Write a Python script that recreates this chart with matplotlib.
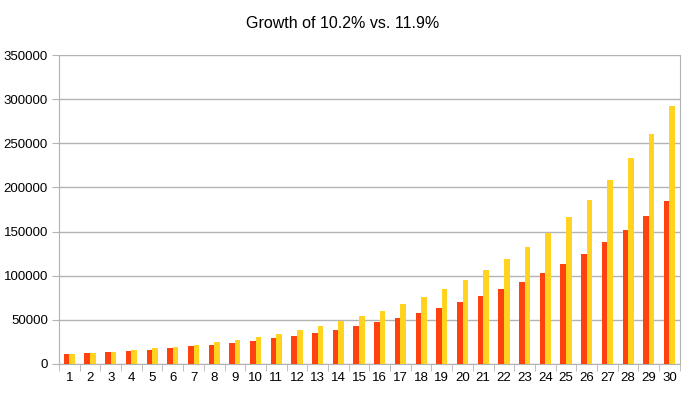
import numpy as np
import matplotlib
matplotlib.use("Agg")
import matplotlib.pyplot as plt

plt.rcParams['font.family'] = ['Liberation Sans', 'DejaVu Sans']

years = list(range(1, 31))
growth_102 = [11020, 12144, 13383, 14748, 16252, 17910, 19737, 21750, 23968, 26413,
              29107, 32076, 35348, 38953, 42927, 47305, 52130, 57448, 63307, 69765,
              76881, 84723, 93364, 102887, 113382, 124947, 137691, 151736, 167213, 184268]
growth_119 = [11190, 12522, 14012, 15679, 17545, 19633, 21969, 24584, 27509, 30783,
              34446, 38545, 43132, 48265, 54009, 60435, 67627, 75675, 84680, 94757,
              106033, 118651, 132770, 148570, 166250, 186034, 208172, 232944, 260664, 291683]

fig = plt.figure(figsize=(6.86, 3.93), dpi=100)
ax = fig.add_axes([0.086, 0.074, 0.905, 0.786])

x = np.arange(len(years))
w = 0.27
ax.bar(x - w / 2, growth_102, width=w, color='#ff420e', zorder=3)
ax.bar(x + w / 2, growth_119, width=w, color='#ffd320', zorder=3)

ax.set_xlim(-0.5, len(years) - 0.5)
ax.set_ylim(0, 350000)
ax.set_yticks(range(0, 350001, 50000))
ax.set_xticks(x)
ax.set_xticklabels([str(y) for y in years])
ax.set_xticks(np.arange(-0.5, len(years), 1), minor=True)

ax.grid(axis='y', color='#b3b3b3', linewidth=1, zorder=0)
for side in ['top', 'right']:
    ax.spines[side].set_visible(False)
ax.spines['left'].set_color('#b3b3b3')
ax.spines['bottom'].set_color('#b3b3b3')
ax.spines['right'].set_visible(True)
ax.spines['right'].set_color('#b3b3b3')

ax.tick_params(axis='x', which='major', length=0, labelsize=9.5, pad=6)
ax.tick_params(axis='x', which='minor', length=5, color='#b3b3b3')
ax.tick_params(axis='y', length=5, color='#b3b3b3', labelsize=9.5, pad=3)

fig.suptitle('Growth of 10.2% vs. 11.9%', fontsize=11.5, y=0.96)

fig.savefig('out.png', dpi=100)
